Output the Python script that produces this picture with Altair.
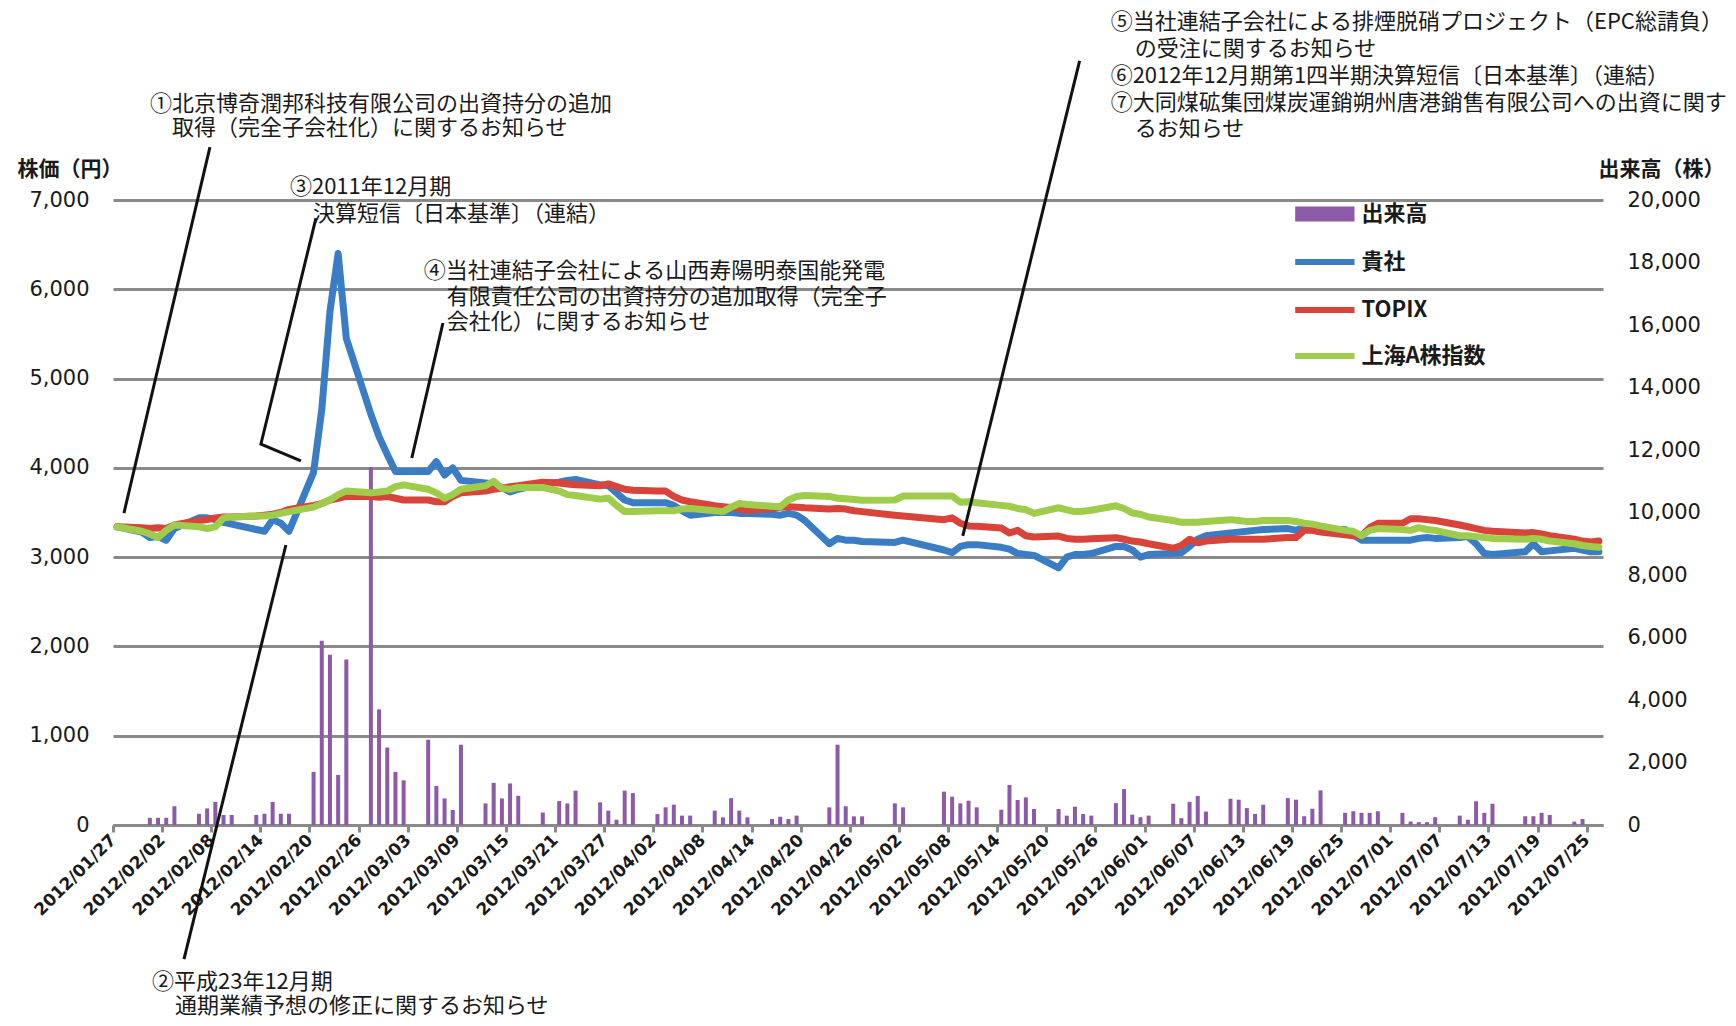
import altair as alt
import pandas as pd

# ---------------- data ----------------
# trading days (day-of-month per month, 2012)
JAN = [27, 30, 31]
FEB = [1, 2, 3, 6, 7, 8, 9, 10, 13, 14, 15, 16, 17, 20, 21, 22, 23, 24, 27, 28, 29]
MAR = [1, 2, 5, 6, 7, 8, 9, 12, 13, 14, 15, 16, 19, 21, 22, 23, 26, 27, 28, 29, 30]
APR = [2, 3, 4, 5, 6, 9, 10, 11, 12, 13, 16, 17, 18, 19, 20, 23, 24, 25, 26, 27]
MAY = [1, 2, 7, 8, 9, 10, 11, 14, 15, 16, 17, 18, 21, 22, 23, 24, 25, 28, 29, 30, 31]
JUN = [1, 4, 5, 6, 7, 8, 11, 12, 13, 14, 15, 18, 19, 20, 21, 22, 25, 26, 27, 28, 29]
JUL = [2, 3, 4, 5, 6, 9, 10, 11, 12, 13, 17, 18, 19, 20, 23, 24, 25, 26]
MONTHS = [(1, JAN), (2, FEB), (3, MAR), (4, APR), (5, MAY), (6, JUN), (7, JUL)]
DATES = [f"2012-{m:02d}-{d:02d}" for m, days in MONTHS for d in days]

# 貴社 (company share price, yen)
COMPANY = [
    3340, 3280, 3220, 3230, 3190, 3320, 3440, 3440, 3420, 3390, 3370, 3310, 3290, 3420, 3380, 3290,
    3950, 4650, 5750, 6400, 5450, 4600, 4350, 4150, 3960, 3960, 3960, 4070, 3920, 4000, 3860,
    3830, 3820, 3780, 3730, 3760, 3820, 3840, 3860, 3870, 3810, 3800, 3720, 3640, 3610,
    3610, 3610, 3580, 3520, 3470, 3500, 3500, 3500, 3490, 3490, 3480, 3470, 3490, 3470, 3410,
    3150, 3210, 3190, 3190, 3175, 3165, 3190, 3080, 3050, 3120, 3140, 3140,
    3110, 3090, 3040, 3030, 3020, 2880, 3000, 3030, 3030, 3040, 3120, 3120, 3080, 3000, 3030,
    3040, 3050, 3120, 3200, 3240, 3270, 3280, 3290, 3300, 3310, 3320, 3300, 3330, 3320, 3310,
    3310, 3250, 3190, 3190, 3190, 3190, 3190, 3210, 3220, 3210, 3220, 3230, 3150, 3040, 3030,
    3060, 3150, 3060, 3070, 3100, 3080, 3060, 3060,
]
# TOPIX (rebased to the company's first price)
TOPIX = [
    3340, 3330, 3320, 3330, 3320, 3360, 3410, 3420, 3440, 3450, 3450, 3460, 3470, 3480, 3500, 3535,
    3580, 3600, 3640, 3660, 3680, 3680, 3670, 3680, 3660, 3640, 3640, 3620, 3620, 3680, 3720,
    3740, 3760, 3770, 3790, 3800, 3840, 3830, 3820, 3810, 3800, 3820, 3790, 3760, 3750,
    3740, 3740, 3680, 3640, 3620, 3575, 3565, 3555, 3540, 3525, 3545, 3560, 3565, 3560, 3553,
    3540, 3545, 3538, 3520, 3510, 3470, 3460, 3420, 3440, 3380, 3350, 3345,
    3327, 3270, 3300, 3240, 3225, 3236, 3210, 3200, 3200, 3205, 3218, 3200, 3180, 3170, 3150,
    3100, 3130, 3200, 3160, 3180, 3200, 3200, 3200, 3200, 3200, 3220, 3220, 3300, 3300, 3280,
    3250, 3240, 3240, 3330, 3380, 3380, 3430, 3430, 3420, 3410, 3360, 3340, 3320, 3300, 3290,
    3270, 3275, 3260, 3240, 3200, 3180, 3170, 3180,
]
# 上海A株指数 (rebased to the company's first price)
SHANGHAI = [
    3340, 3290, 3260, 3220, 3300, 3360, 3340, 3320, 3340, 3440, 3450, 3460, 3460, 3470, 3490, 3510,
    3560, 3600, 3640, 3700, 3740, 3720, 3730, 3740, 3790, 3810, 3760, 3720, 3660, 3700, 3760,
    3800, 3850, 3770, 3760, 3780, 3780, 3740, 3700, 3690, 3650, 3660, 3580, 3510, 3510,
    3520, 3520, 3520, 3540, 3545, 3520, 3510, 3560, 3600, 3590, 3570, 3565, 3640, 3680, 3690,
    3680, 3660, 3655, 3645, 3636, 3640, 3684, 3684, 3684, 3615, 3620, 3610,
    3580, 3570, 3545, 3530, 3490, 3553, 3530, 3510, 3515, 3525, 3575, 3545, 3495, 3480, 3450,
    3410, 3390, 3390, 3390, 3400, 3420, 3410, 3400, 3400, 3410, 3410, 3400, 3380, 3370, 3350,
    3300, 3290, 3240, 3300, 3320, 3310, 3300, 3330, 3310, 3300, 3240, 3240, 3230, 3220, 3210,
    3200, 3210, 3200, 3180, 3150, 3130, 3120, 3110,
]
# 出来高 (volume, shares)
VOLUME = [
    0, 0, 230, 230, 230, 600, 360, 530, 740, 320, 320, 320, 360, 740, 360, 360,
    1700, 5900, 5450, 1600, 5300, 11450, 3700, 2480, 1700, 1430, 2730, 1250, 850, 480, 2570,
    690, 1350, 850, 1330, 935, 400, 765, 690, 1100, 725, 460, 170, 1100, 1020,
    350, 565, 650, 300, 300, 460, 245, 860, 460, 245, 190, 265, 190, 300, 0,
    565, 2570, 600, 277, 277, 693, 565, 1066, 906, 693, 778, 565,
    490, 1280, 800, 885, 512, 512, 300, 586, 350, 300, 700, 1150, 330, 250, 300,
    680, 220, 740, 930, 430, 840, 810, 540, 356, 650, 860, 810, 280, 520, 1110,
    390, 440, 390, 390, 440, 390, 110, 90, 90, 250, 300, 170, 760, 390, 680,
    280, 280, 390, 320, 110, 190, 0, 0,
]

TICK_LABELS = [
    "2012/01/27", "2012/02/02", "2012/02/08", "2012/02/14", "2012/02/20", "2012/02/26",
    "2012/03/03", "2012/03/09", "2012/03/15", "2012/03/21", "2012/03/27", "2012/04/02",
    "2012/04/08", "2012/04/14", "2012/04/20", "2012/04/26", "2012/05/02", "2012/05/08",
    "2012/05/14", "2012/05/20", "2012/05/26", "2012/06/01", "2012/06/07", "2012/06/13",
    "2012/06/19", "2012/06/25", "2012/07/01", "2012/07/07", "2012/07/13", "2012/07/19",
    "2012/07/25",
]
PRICE_TICKS = [0, 1000, 2000, 3000, 4000, 5000, 6000, 7000]
VOLUME_TICKS = [0, 2000, 4000, 6000, 8000, 10000, 12000, 14000, 16000, 18000, 20000]
LEGEND_NAMES = ["出来高", "貴社", "TOPIX", "上海A株指数"]

# annotation texts: (text, day offset from 2012/01/27, price-axis level)
NOTE_TEXTS = [
    ("①北京博奇潤邦科技有限公司の出資持分の追加", 4.52, 8075),
    ("取得（完全子会社化）に関するお知らせ", 7.20, 7806),
    ("③2011年12月期", 21.61, 7145),
    ("決算短信〔日本基準〕（連結）", 24.42, 6843),
    ("④当社連結子会社による山西寿陽明泰国能発電", 37.97, 6205),
    ("有限責任公司の出資持分の追加取得（完全子", 40.78, 5913),
    ("会社化）に関するお知らせ", 40.78, 5633),
    ("⑤当社連結子会社による排煙脱硝プロジェクト（EPC総請負）", 121.86, 8990),
    ("の受注に関するお知らせ", 124.79, 8691),
    ("⑥2012年12月期第1四半期決算短信〔日本基準〕（連結）", 121.86, 8388),
    ("⑦大同煤砿集団煤炭運銷朔州唐港銷售有限公司への出資に関す", 121.86, 8086),
    ("るお知らせ", 124.79, 7795),
    ("②平成23年12月期", 4.76, -1758),
    ("通期業績予想の修正に関するお知らせ", 7.57, -2027),
]
# leader lines: list of polylines, points as (day offset, price level)
LEADERS = [
    [(1.34, 3494), (11.84, 7593)],
    [(21.12, 3136), (8.67, -1501)],
    [(22.95, 4077), (18.07, 4267), (24.79, 6798)],
    [(36.5, 4110), (40.3, 5622)],
    [(103.8, 3237), (118.07, 8557)],
]
# legend anchors (day offsets / price levels)
LEG_SYMBOL_DAYS = (144.4, 151.65)
LEG_TEXT_DAY = 152.5
LEG_LEVELS = [6843, 6306, 5768, 5253]

# ---------------- styles ----------------
BLUE = "#3b7dc4"
RED = "#d8433a"
GREEN = "#9fcd4b"
PURPLE = "#8c5aa6"
GRID = "#8a8a8a"
INK = "#1a1a1a"
JP = "Noto Sans CJK JP"
NUM = "DejaVu Sans"

BASE = pd.Timestamp("2012-01-27")


def at(days):
    return (BASE + pd.Timedelta(days=days)).strftime("%Y-%m-%dT%H:%M:%SZ")


def dt(s):
    y, m, d = map(int, s.split("/"))
    return alt.DateTime(year=y, month=m, date=d, utc=True)


df = pd.DataFrame({
    "date": DATES, "company": COMPANY, "topix": TOPIX,
    "shanghai": SHANGHAI, "volume": VOLUME,
})

X_SCALE = alt.Scale(type="utc", domain=[dt("2012/01/27"), dt("2012/07/27")], nice=False)
X_AXIS = alt.Axis(
    values=[dt(s) for s in TICK_LABELS],
    labelExpr="utcFormat(datum.value, '%Y/%m/%d')",
    labelAngle=-45, labelAlign="right", labelBaseline="middle",
    labelFont=NUM, labelFontSize=17, labelFontWeight="bold", labelColor=INK,
    labelPadding=5, labelOverlap=False, labelFlush=False,
    tickSize=7, tickWidth=3, tickColor=GRID,
    domainColor=GRID, domainWidth=3, grid=False, title=None,
)
Y_SCALE = alt.Scale(domain=[0, 7000], nice=False, zero=False)
Y_AXIS = alt.Axis(
    values=PRICE_TICKS, format=",.0f", grid=True, gridColor=GRID, gridWidth=3,
    ticks=False, domain=False, labelFont=NUM, labelFontSize=21, labelColor=INK,
    labelPadding=24, title="株価（円）", titleFont=JP, titleFontSize=21,
    titleFontWeight="bold", titleColor=INK, titleAngle=0, titleAlign="left",
    titleBaseline="middle", titleX=-96, titleY=-31,
)
V_AXIS = alt.Axis(
    orient="right", values=VOLUME_TICKS, format=",.0f", grid=False, ticks=False,
    domain=False, labelFont=NUM, labelFontSize=21, labelColor=INK, labelPadding=24,
    title="出来高（株）", titleFont=JP, titleFontSize=21, titleFontWeight="bold",
    titleColor=INK, titleAngle=0, titleAlign="left", titleBaseline="middle",
    titleX=-5, titleY=-31,
)

X_DAY = alt.X("date:T", timeUnit="utcyearmonthdate", bandPosition=0.5,
              scale=X_SCALE, axis=X_AXIS)
X_T = alt.X("t:T", scale=X_SCALE, axis=X_AXIS)
Y_V = alt.Y("v:Q", scale=Y_SCALE, axis=Y_AXIS)


def price_line(field, color):
    return alt.Chart(df).mark_line(
        color=color, strokeWidth=7, strokeJoin="round", strokeCap="round"
    ).encode(x=X_DAY, y=alt.Y(f"{field}:Q", scale=Y_SCALE, axis=Y_AXIS))


bars = alt.Chart(df).mark_rule(color=PURPLE, strokeWidth=4, strokeCap="butt").encode(
    x=X_DAY,
    y=alt.Y("volume:Q", scale=alt.Scale(domain=[0, 20000], nice=False), axis=V_AXIS),
    y2=alt.datum(0),
)

lead_rows = []
for i, pts in enumerate(LEADERS):
    for j, (d, v) in enumerate(pts):
        lead_rows.append({"id": i, "seq": j, "t": at(d), "v": v})
leaders = alt.Chart(pd.DataFrame(lead_rows)).mark_line(
    color="#111111", strokeWidth=3
).encode(x=X_T, y=Y_V, detail="id:N", order="seq:Q")

notes = alt.Chart(pd.DataFrame(
    [{"label": s, "t": at(d), "v": v} for s, d, v in NOTE_TEXTS]
)).mark_text(align="left", baseline="middle", font=JP, fontSize=22, color=INK).encode(
    x=X_T, y=Y_V, text="label:N")

# legend
leg_rect = alt.Chart(pd.DataFrame([{
    "t": at(LEG_SYMBOL_DAYS[0]), "t2": at(LEG_SYMBOL_DAYS[1]),
    "v": LEG_LEVELS[0] + 85, "v2": LEG_LEVELS[0] - 85,
}])).mark_rect(color=PURPLE).encode(x=X_T, x2="t2:T", y=Y_V, y2="v2:Q")

leg_lines = alt.Chart(pd.DataFrame([
    {"t": at(LEG_SYMBOL_DAYS[0]), "t2": at(LEG_SYMBOL_DAYS[1]), "v": lv, "c": c}
    for lv, c in zip(LEG_LEVELS[1:], [BLUE, RED, GREEN])
])).mark_rule(strokeWidth=6).encode(
    x=X_T, x2="t2:T", y=Y_V, color=alt.Color("c:N", scale=None))

leg_text = alt.Chart(pd.DataFrame([
    {"label": n, "t": at(LEG_TEXT_DAY), "v": lv} for n, lv in zip(LEGEND_NAMES, LEG_LEVELS)
])).mark_text(align="left", baseline="middle", font=JP, fontSize=22,
              fontWeight="bold", color=INK).encode(x=X_T, y=Y_V, text="label:N")

left = alt.layer(
    price_line("company", BLUE), price_line("topix", RED), price_line("shanghai", GREEN),
    leaders, notes, leg_rect, leg_lines, leg_text,
)

chart = alt.layer(bars, left).resolve_scale(y="independent").properties(
    width=1490, height=625,
    padding={"left": 105, "top": 192, "right": 125, "bottom": 193},
    autosize=alt.AutoSizeParams(type="none"),
    background="white",
).configure_view(stroke=None)

chart.save("out.html", embed_options={"renderer": "svg", "actions": False})
